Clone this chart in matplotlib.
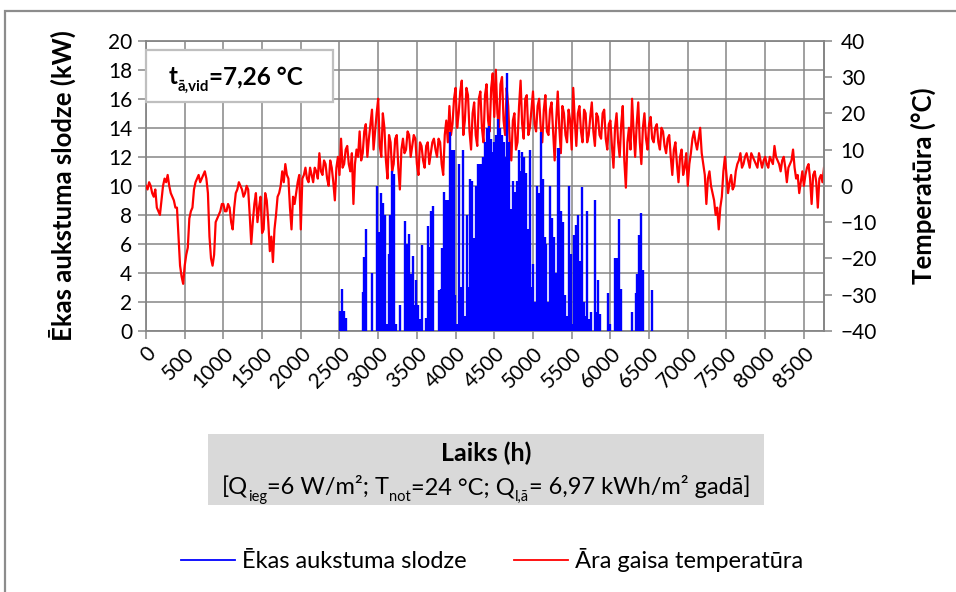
import numpy as np
import matplotlib
matplotlib.use("Agg")
import matplotlib.pyplot as plt
from matplotlib.patches import Rectangle
from matplotlib.lines import Line2D

FONT = ["Lato", "DejaVu Sans"]
plt.rcParams["font.family"] = FONT

# outdoor air temperature (°C), read at 0, 40, 80 ... 8760 h
temp_c = [
    0, 1, -2, -1, -7, -4, 2, 3, -2, -4,
    -6, -22, -27, -19, -9, -6, 1, 3, 2, 4,
    -2, -20, -19, -9, -7, -5, -7, -6, -12, -2,
    1, -1, -2, -1, -16, -5, -10, -3, -12, -4,
    -18, -21, -8, -2, 4, 6, 2, -12, -5, 1,
    -12, 3, 2, 5, 1, 4, 9, 3, 6, 0,
    5, -4, 8, 13, 6, 11, 4, -5, 10, 15,
    9, 17, 13, 21, 15, 24, 8, 16, 2, 12,
    6, 14, -1, 13, 10, 14, 11, 13, 3, 11,
    5, 12, 9, 13, 8, 12, 3, 18, 22, 17,
    27, 20, 29, 18, 25, 10, 23, 11, 26, 12,
    28, 15, 31, 32, 16, 30, 14, 22, 7, 20,
    12, 29, 13, 25, 16, 26, 15, 24, 12, 25,
    14, 23, 7, 26, 9, 20, 12, 18, 27, 11,
    22, 12, 20, 14, 23, 11, 19, 13, 21, 10,
    18, 5, 20, 8, 22, -0.5, 16, 24, 8, 23,
    6, 20, 10, 19, 12, 17, 10, 15, 9, 14,
    3, 12, 1, 10, 5, 0, 9, 15, 10, 16,
    6, -5, 4, -2, -8, -12, -3, 8, -2, 3,
    0, 6, 9, 6, 9, 5, 8, 6, 9, 5,
    8, 5, 7, 11, 7, 4, 8, 1, 6, 10,
    2, -2, 4, 3, 6, -5, 4, -6, 3, 5,
]
# read in between, at 20, 60, 100 ... 8740 h
temp_c_mid = [
    -1, 0, -3, -6, -8, 0, 1, 0, -3, -6,
    -14, -25, -22, -17, -7, -1, 2, 1, 3, 2,
    -14, -22, -10, -8, -5, -7, -5, -10, -6, -1,
    0, -3, 0, -8, -10, -2, -6, -13, -2, -10,
    -14, -12, -3, 0, 1, 3, -6, -3, -2, 3,
    2, 5, 1, 3, 5, 2, 4, 7, 2, 7,
    1, 5, 3, 5, 10, 6, 9, 6, 8, 7,
    15, 8, 17, 10, 20, 11, 20, 7, 14, 4,
    13, 5, 10, 9, 15, 8, 14, 6, 12, 7,
    11, 6, 12, 10, 13, 6, 14, 12, 14, 24,
    16, 26, 14, 27, 15, 20, 14, 24, 16, 25,
    18, 27, 19, 20, 28, 18, 27, 12, 18, 10,
    22, 17, 24, 14, 21, 17, 22, 16, 21, 15,
    21, 15, 18, 16, 22, 14, 21, 10, 18, 20,
    15, 21, 12, 19, 15, 20, 14, 20, 13, 17,
    11, 16, 12, 17, 7, 12, 10, 15, 17, 12,
    16, 13, 17, 13, 16, 12, 16, 11, 13, 8,
    10, 6, 8, 3, 9, 6, 13, 12, 13, 9,
    3, 2, 0, -4, -6, -6, 4, 3, 1, -1,
    4, 7, 5, 8, 7, 9, 7, 5, 7, 7,
    6, 8, 6, 8, 6, 7, 5, 5, 7, 5,
    3, 1, 0, 5, 2, 3, 1, 2, 1,
]

# daily peak cooling load (kW), days 104 ... 272
load_first_day = 104
load_kw = [
    1.4, 2.9, 1.4, 0.9, 0, 0, 0, 0, 0, 0,
    0, 0, 2.7, 5.1, 7.0, 0, 0, 4.0, 0, 0,
    10.0, 6.8, 9.5, 8.8, 8.0, 0.5, 5.3, 8.0, 11.0, 10.8,
    0.5, 0, 1.8, 0, 0, 7.6, 6.0, 6.7, 3.9, 5.2,
    1.8, 3.5, 1.8, 0.8, 5.9, 0, 0.9, 7.2, 5.8, 8.3,
    8.6, 0, 0, 2.8, 2.9, 5.7, 9.6, 9.0, 9.0, 13.7,
    12.5, 12.5, 2.5, 0.5, 11.5, 3.0, 12.5, 1.0, 8.0, 3.0,
    10.5, 10.3, 6.4, 10.0, 11.5, 11.5, 11.5, 12.0, 13.0, 14.0,
    14.1, 13.2, 12.3, 13.0, 13.5, 14.6, 14.0, 13.5, 13.0, 12.0,
    17.8, 13.0, 8.4, 10.3, 9.6, 10.3, 12.5, 11.0, 12.3, 12.0,
    10.9, 7.0, 12.5, 3.0, 4.6, 2.0, 10.0, 9.5, 13.7, 10.5,
    6.5, 6.0, 2.0, 10.0, 7.8, 6.5, 4.0, 12.6, 12.6, 8.3,
    7.5, 2.5, 1.0, 10.0, 5.3, 0.5, 6.6, 7.3, 8.0, 4.8,
    9.9, 2.0, 1.0, 8.3, 0.8, 1.3, 0, 9.0, 1.3, 3.5,
    1.2, 0, 0, 0, 2.6, 0.5, 0, 0, 5.0, 5.0,
    7.7, 2.9, 0, 0, 0, 0, 0, 1.3, 0, 2.6,
    3.9, 6.6, 8.1, 4.2, 0, 0, 0, 0, 2.8,
]

x_ticks = list(range(0, 8501, 500))
load_ticks = list(range(0, 21, 2))
temp_ticks = list(range(-40, 41, 10))

GRID = "#868686"
W, H = 956, 592
TICK_FS = 15
LABEL_FS = 18.5

fig = plt.figure(figsize=(W / 100, H / 100), dpi=100)
fig.patch.set_facecolor("white")

L, R, T, B = 146, 824, 40.7, 331
pos = [L / W, 1 - B / H, (R - L) / W, (B - T) / H]

# base axes: grid + left axis
ax = fig.add_axes(pos)
ax.set_xlim(0, 8760)
ax.set_ylim(0, 20)
ax.set_xticks(x_ticks)
ax.set_yticks(load_ticks)
ax.grid(True, color=GRID, lw=1.1)
for s in ax.spines.values():
    s.set_color(GRID)
    s.set_linewidth(1.3)
ax.tick_params(axis="both", direction="out", length=6, width=1.1, color=GRID,
               labelsize=TICK_FS, labelcolor="black")
ax.tick_params(axis="y", pad=4)
ax.tick_params(axis="x", pad=3)
for lab in ax.get_xticklabels():
    lab.set_rotation(45)
    lab.set_ha("right")
    lab.set_rotation_mode("anchor")
ax.set_ylabel("Ēkas aukstuma slodze (kW)", fontsize=LABEL_FS, fontweight="bold", labelpad=23)

# temperature (right axis)
ax_t = ax.twinx()
ax_t.set_ylim(-40, 40)
ax_t.set_yticks(temp_ticks)
temp_all = np.empty(len(temp_c) + len(temp_c_mid))
temp_all[0::2] = temp_c
temp_all[1::2] = temp_c_mid
hours_t = np.arange(len(temp_all)) * 20
ax_t.plot(hours_t, temp_all, color="#ff0000", lw=1.6)
for k, s in ax_t.spines.items():
    s.set_visible(k == "right")
    s.set_color(GRID)
    s.set_linewidth(1.3)
ax_t.tick_params(axis="y", direction="out", length=6, width=1.1, color=GRID,
                 labelsize=TICK_FS, labelcolor="black", pad=6)
ax_t.set_ylabel("Temperatūra (°C)", fontsize=LABEL_FS, fontweight="bold", labelpad=24)

# cooling load on top
ax_l = ax.twinx()
ax_l.set_ylim(0, 20)
ax_l.yaxis.set_visible(False)
for s in ax_l.spines.values():
    s.set_visible(False)
days = np.arange(len(load_kw)) + load_first_day
load_h = days * 24 + 14
ax_l.vlines(load_h, 0, load_kw, color="#0000ff", lw=1.7)

# average temperature box
box = Rectangle((L / W, 1 - 102 / H), (333 - L) / W, (102 - 50) / H, transform=fig.transFigure,
                facecolor="white", edgecolor="#bfbfbf", lw=1.6, zorder=5)
fig.add_artist(box)


def draw_pieces(xc, yc, pieces, size, weight):
    renderer = fig.canvas.get_renderer()
    items = []
    for txt, kind in pieces:
        fs = size * 0.62 if kind == "s" else size
        t = fig.text(0, 0, txt, fontsize=fs, fontweight=weight, va="baseline", zorder=6)
        items.append((t, kind, t.get_window_extent(renderer).width))
    total = sum(w for _, _, w in items)
    x = xc - total / 2
    for t, kind, w in items:
        dy = -size * 1.389 * 0.28 if kind == "s" else 0
        t.set_position((x / W, 1 - (yc - dy) / H))
        x += w


draw_pieces(236, 84, [("t", "n"), ("ā,vid", "s"), ("=7,26 °C", "n")], 17.5, "bold")

# x label box
fig.add_artist(Rectangle((208 / W, 1 - 505 / H), (764 - 208) / W, (505 - 434) / H,
                         transform=fig.transFigure, facecolor="#d9d9d9", edgecolor="none"))
fig.text(486 / W, 1 - 453 / H, "Laiks (h)", fontsize=18, fontweight="bold", ha="center", va="center")
draw_pieces(486, 494, [("[Q", "n"), ("ieg", "s"), ("=6 W/m²; T", "n"), ("not", "s"),
                       ("=24 °C; Q", "n"), ("l,ā", "s"), ("= 6,97 kWh/m² gadā]", "n")],
            17, "normal")

# legend
handles = [Line2D([], [], color="#0000ff", lw=1.3), Line2D([], [], color="#ff0000", lw=1.3)]
fig.legend(handles, ["Ēkas aukstuma slodze", "Āra gaisa temperatūra"], loc="center",
           bbox_to_anchor=(492 / W, 1 - 560 / H), ncol=2, frameon=False, fontsize=17,
           handlelength=2.3, handletextpad=0.3, columnspacing=2.0)

# chart-area border
fig.add_artist(Rectangle((5 / W, -0.1), 1.2, 1.1 - 10.5 / H, transform=fig.transFigure,
                         facecolor="none", edgecolor="#8c8c8c", lw=1.6))

fig.savefig("out.png", dpi=100)
